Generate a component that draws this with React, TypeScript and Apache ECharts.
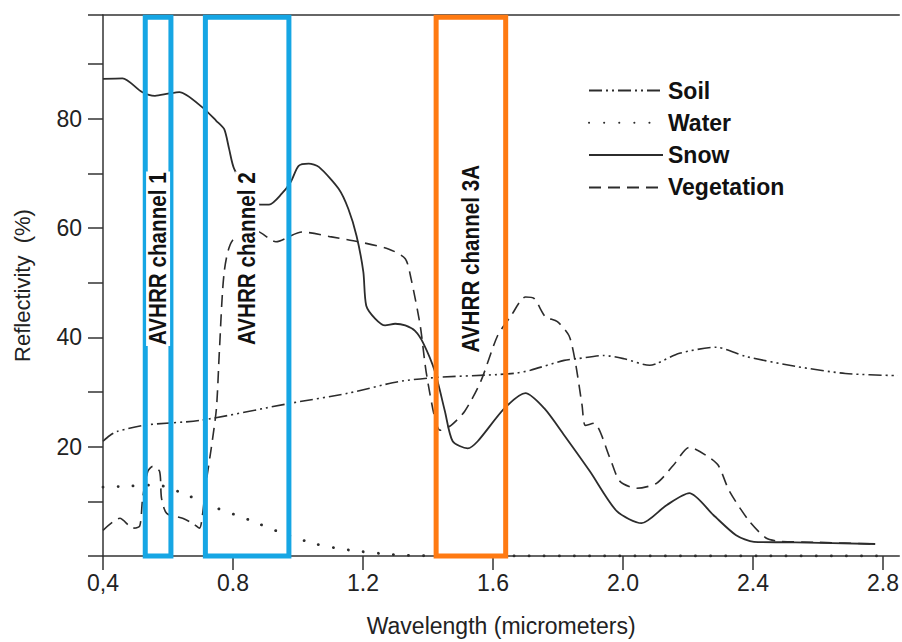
import React, { useEffect, useRef } from "react";
import * as echarts from "echarts";

// Wavelength (micrometers) / reflectivity (%)
const soilX = [0.4, 0.42, 0.443, 0.535, 0.697, 0.972, 1.155, 1.308, 1.431, 1.614, 1.675, 1.715, 1.819, 1.859, 1.941, 2.003, 2.082, 2.103, 2.174, 2.287, 2.379, 2.531, 2.684, 2.845];
const soilY = [21.0, 22.0, 22.8, 24.0, 24.8, 27.9, 29.8, 31.9, 32.7, 33.2, 33.5, 34.0, 35.8, 36.1, 36.7, 36.1, 34.9, 35.2, 37.1, 38.2, 36.5, 34.7, 33.4, 33.0];

const waterX = [0.4, 0.483, 0.565, 0.66, 0.749, 0.85, 0.951, 1.054, 1.155, 1.308, 1.45, 2.78];
const waterY = [12.6, 12.8, 13.0, 11.1, 8.8, 6.6, 4.2, 2.2, 1.1, 0.2, 0, 0];

const snowX = [0.4, 0.46, 0.52, 0.56, 0.6, 0.635, 0.706, 0.749, 0.773, 0.788, 0.804, 0.871, 0.911, 0.95, 0.978, 1.002, 1.033, 1.064, 1.125, 1.155, 1.18, 1.201, 1.21, 1.238, 1.268, 1.299, 1.33, 1.36, 1.385, 1.421, 1.452, 1.476, 1.522, 1.553, 1.635, 1.7, 1.758, 1.819, 1.898, 1.981, 2.057, 2.134, 2.204, 2.278, 2.348, 2.403, 2.531, 2.776];
const snowY = [87.3, 87.4, 84.9, 84.2, 84.6, 84.9, 82.1, 79.6, 78.1, 74.5, 70.8, 64.4, 64.3, 66.3, 68.5, 71.4, 71.8, 71.2, 67.2, 63.5, 58.6, 52.0, 45.8, 43.4, 42.2, 42.5, 42.2, 41.2, 39.0, 33.8, 26.5, 21.0, 19.7, 21.0, 27.0, 29.8, 27.0, 22.1, 15.5, 8.2, 6.0, 9.3, 11.5, 7.5, 3.8, 2.6, 2.5, 2.2];

const vegX = [0.4, 0.452, 0.492, 0.513, 0.522, 0.538, 0.553, 0.574, 0.58, 0.596, 0.645, 0.675, 0.697, 0.706, 0.718, 0.733, 0.749, 0.758, 0.773, 0.798, 0.871, 0.932, 1.012, 1.103, 1.186, 1.278, 1.33, 1.348, 1.376, 1.394, 1.421, 1.437, 1.471, 1.513, 1.562, 1.614, 1.654, 1.7, 1.727, 1.761, 1.798, 1.834, 1.853, 1.874, 1.884, 1.911, 1.96, 1.99, 2.042, 2.103, 2.155, 2.204, 2.256, 2.293, 2.327, 2.388, 2.44, 2.48, 2.6, 2.776];
const vegY = [4.7, 6.9, 5.1, 5.5, 10.6, 15.5, 16.4, 15.5, 10.6, 7.8, 6.9, 6.0, 5.1, 7.5, 13.7, 19.7, 27.0, 37.4, 52.0, 57.7, 59.5, 57.5, 59.3, 58.4, 57.5, 56.2, 54.4, 50.7, 42.2, 33.8, 25.2, 23.0, 23.9, 26.5, 31.9, 40.3, 43.8, 47.4, 47.1, 43.8, 42.9, 40.3, 35.6, 27.6, 23.9, 24.3, 17.9, 13.7, 12.4, 13.3, 16.6, 19.9, 18.4, 16.6, 11.9, 6.4, 3.3, 2.7, 2.5, 2.2];

// AVHRR channel bands (micrometers)
const channelNames = ["AVHRR channel 1", "AVHRR channel 2", "AVHRR channel 3A"];
const channelStart = [0.53, 0.715, 1.425];
const channelEnd = [0.609, 0.972, 1.639];
const channelTop = 98.6;

const seriesNames = ["Soil", "Water", "Snow", "Vegetation"];
const yLabelValues = [20, 40, 60, 80];

const FONT = '"Liberation Sans", Arial, Helvetica, sans-serif';

const zip = (xs: number[], ys: number[]) => xs.map((x, i) => [x, ys[i]]);

export default function App() {
  const ref = useRef<HTMLDivElement>(null);
  useEffect(() => {
    if (!ref.current) return;
    const chart = echarts.init(ref.current, undefined, { renderer: "svg" });
    const lineColor = "#2c2c2c";
    const option: any = {
      animation: false,
      backgroundColor: "#fff",
      grid: { left: 103, top: 15, width: 801, height: 543, containLabel: false },
      legend: {
        orient: "vertical",
        left: 588,
        top: 79,
        padding: 0,
        itemWidth: 74,
        itemHeight: 20,
        itemGap: 9.3,
        itemStyle: { opacity: 0 },
        textStyle: { fontSize: 23, fontWeight: "bold", color: "#111", fontFamily: FONT },
        data: seriesNames,
      },
      xAxis: [
        {
          type: "value",
          min: 0.4,
          max: 2.85,
          interval: 0.4,
          position: "bottom",
          axisLine: { show: true, onZero: false, lineStyle: { color: "#333", width: 1.5 } },
          axisTick: { show: true, length: 14, lineStyle: { color: "#333", width: 1.5 } },
          splitLine: { show: false },
          axisLabel: {
            fontSize: 23,
            color: "#222",
            fontFamily: FONT,
            margin: 15,
            showMaxLabel: false,
            formatter: (v: number) => {
              if (v > 2.82) return "";
              if (v < 0.5) return "0,4";
              return v.toFixed(1);
            },
          },
          name: "Wavelength (micrometers)",
          nameLocation: "middle",
          nameGap: 58,
          nameTextStyle: { fontSize: 23, color: "#222", fontFamily: FONT },
        },
        {
          type: "value",
          min: 0.4,
          max: 2.85,
          position: "top",
          axisLine: { show: true, onZero: false, lineStyle: { color: "#333", width: 1.5 } },
          axisTick: { show: false },
          axisLabel: { show: false },
          splitLine: { show: false },
        },
      ],
      yAxis: {
        type: "value",
        min: 0,
        max: 99,
        interval: 10,
        axisLine: { show: true, lineStyle: { color: "#333", width: 1.5 } },
        axisTick: { show: true, length: 15, lineStyle: { color: "#333", width: 1.5 } },
        splitLine: { show: false },
        axisLabel: {
          interval: 0,
          fontSize: 23,
          color: "#222",
          fontFamily: FONT,
          margin: 21,
          formatter: (v: number) => (yLabelValues.includes(Math.round(v * 1000) / 1000) ? String(v) : ""),
        },
        name: "Reflectivity  (%)",
        nameLocation: "middle",
        nameGap: 70,
        nameTextStyle: { fontSize: 22, color: "#222", fontFamily: FONT },
      },
      series: [
        {
          name: "Soil",
          type: "line",
          symbol: "none",
          smooth: 0.25,
          data: zip(soilX, soilY),
          lineStyle: { color: lineColor, width: 1.6, type: [13, 4, 2, 4, 2, 4] },
          itemStyle: { color: lineColor },
          z: 3,
        },
        {
          name: "Water",
          type: "line",
          symbol: "none",
          smooth: 0.25,
          data: zip(waterX, waterY),
          lineStyle: { color: lineColor, width: 2.8, type: [0.1, 15], cap: "round" },
          itemStyle: { color: lineColor },
          z: 3,
        },
        {
          name: "Snow",
          type: "line",
          symbol: "none",
          smooth: 0.25,
          data: zip(snowX, snowY),
          lineStyle: { color: lineColor, width: 1.8, type: "solid" },
          itemStyle: { color: lineColor },
          z: 3,
        },
        {
          name: "Vegetation",
          type: "line",
          symbol: "none",
          smooth: 0.25,
          data: zip(vegX, vegY),
          lineStyle: { color: lineColor, width: 1.6, type: [12, 7] },
          itemStyle: { color: lineColor },
          z: 3,
        },
        {
          name: "channels",
          type: "custom",
          z: 10,
          silent: true,
          data: channelStart.map((s, i) => [s, channelEnd[i], i]),
          encode: { x: [0, 1] },
          renderItem: (_params: any, api: any) => {
            const i = api.value(2);
            const s = api.value(0);
            const e = api.value(1);
            const bl = api.coord([s, 0]);
            const tr = api.coord([e, channelTop]);
            const mid = api.coord([(s + e) / 2, 54.4]);
            const color = i === 2 ? "#FF7A12" : "#16A6E4";
            return {
              type: "group",
              children: [
                {
                  type: "rect",
                  shape: { x: bl[0], y: tr[1], width: tr[0] - bl[0], height: bl[1] - tr[1] },
                  style: { fill: "none", stroke: color, lineWidth: 5 },
                },
                {
                  type: "text",
                  x: mid[0],
                  y: mid[1],
                  rotation: Math.PI / 2,
                  scaleX: 0.86,
                  style: {
                    text: channelNames[i],
                    fill: "#111",
                    fontSize: 24,
                    fontWeight: "bold",
                    fontFamily: FONT,
                    align: "center",
                    verticalAlign: "middle",
                    backgroundColor: "#fff",
                    padding: [0, 1],
                  },
                },
              ],
            };
          },
        },
      ],
    };
    chart.setOption(option);
    return () => chart.dispose();
  }, []);
  return (
    <div
      ref={ref}
      style={{ position: "absolute", left: 0, top: 0, width: 902, height: 642, background: "#fff" }}
    />
  );
}
